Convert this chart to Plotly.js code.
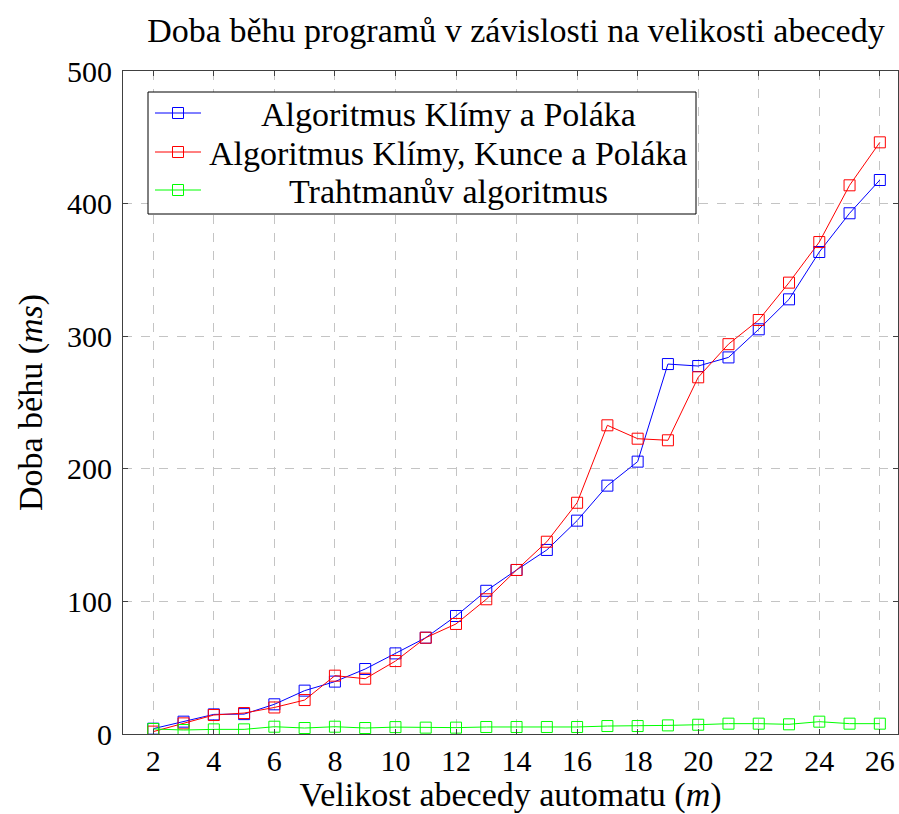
<!DOCTYPE html>
<html>
<head>
<meta charset="utf-8">
<script src="https://cdn.plot.ly/plotly-3.0.1.min.js"></script>
<style>html,body{margin:0;padding:0;background:#fff;}#chart{width:899px;height:814px;}</style>
</head>
<body>
<div id="chart"></div>
<script>
const alphabetSize = [2,3,4,5,6,7,8,9,10,11,12,13,14,15,16,17,18,19,20,21,22,23,24,25,26];
const klimaPolak = [4, 9.3, 14.8, 15, 22.4, 32.7, 39.5, 49, 60.8, 72.6, 89, 108, 123.7, 138.8, 160.9, 187.3, 205.4, 279, 277.5, 284, 305.2, 327.8, 363.5, 392.7, 417.8];
const klimaKuncePolak = [1.8, 8, 14.3, 15.8, 20, 25.6, 44, 41.7, 55, 72.6, 83, 101.6, 123.7, 145, 174.4, 232.8, 222.7, 221.5, 269, 294, 312.2, 340.4, 371, 413.8, 446.2];
const trahtman = [3.8, 3, 3.5, 3.5, 5.5, 4.5, 5.5, 4.5, 5.2, 4.8, 4.8, 5.3, 5.3, 5.3, 5.3, 6, 6, 6.5, 7, 7.8, 7.8, 7.3, 9.3, 7.8, 7.8];
const seriesNames = ["Algoritmus Klímy a Poláka", "Algoritmus Klímy, Kunce a Poláka", "Trahtmanův algoritmus"];
const seriesColors = ["#0000ff", "#ff0000", "#00ff00"];
const seriesValues = [klimaPolak, klimaKuncePolak, trahtman];

const FONT = "'Liberation Serif', 'DejaVu Serif', serif";
const W = 899, H = 814;
const M = {l: 123, r: 1, t: 71, b: 80};
const PW = W - M.l - M.r, PH = H - M.t - M.b;
const px = x => (x - M.l) / PW;
const py = y => (H - M.b - y) / PH;

const traces = seriesValues.map((vals, i) => ({
  x: alphabetSize, y: vals, type: 'scatter', mode: 'lines+markers',
  name: seriesNames[i], showlegend: false,
  line: {color: seriesColors[i], width: 1},
  marker: {symbol: 'square-open', size: 11, color: seriesColors[i], line: {width: 1, color: seriesColors[i]}}
}));

// custom legend (centered text like pgfplots)
const shapes = [];
const annotations = [];
const LB = {x0: 148, x1: 696, y0: 92, y1: 214};
shapes.push({type: 'rect', xref: 'paper', yref: 'paper', x0: px(LB.x0), x1: px(LB.x1), y0: py(LB.y1), y1: py(LB.y0),
  line: {color: '#000', width: 1}, fillcolor: '#fff', layer: 'above'});
const rowY = [113, 152, 190];
seriesNames.forEach((n, i) => {
  const y = rowY[i];
  shapes.push({type: 'line', xref: 'paper', yref: 'paper', x0: px(155), x1: px(201), y0: py(y), y1: py(y),
    line: {color: seriesColors[i], width: 1}, layer: 'above'});
  shapes.push({type: 'rect', xref: 'paper', yref: 'paper', x0: px(172.5), x1: px(183.5), y0: py(y + 5.5), y1: py(y - 5.5),
    line: {color: seriesColors[i], width: 1}, layer: 'above'});
  annotations.push({xref: 'paper', yref: 'paper', x: px(448), y: py(y + 1), xanchor: 'center', yanchor: 'middle',
    text: n, showarrow: false, font: {family: FONT, size: 34, color: '#000'}});
});

const layout = {
  width: W, height: H,
  margin: M,
  paper_bgcolor: '#fff', plot_bgcolor: '#fff',
  title: {text: 'Doba běhu programů v závislosti na velikosti abecedy', font: {family: FONT, size: 34, color: '#000'},
    x: px(516), xref: 'paper', xanchor: 'center', y: 1 - 30 / H, yanchor: 'middle'},
  xaxis: {
    range: [1.0, 26.6], tickmode: 'linear', tick0: 2, dtick: 2,
    showgrid: true, gridcolor: '#c4c4c4', griddash: 'dash', gridwidth: 1,
    showline: true, linecolor: '#404040', linewidth: 1, mirror: 'ticks',
    ticks: 'inside', ticklen: 5, tickcolor: '#404040',
    zeroline: false,
    tickfont: {family: FONT, size: 30, color: '#000'},
    title: {text: 'Velikost abecedy automatu (<i>m</i>)', font: {family: FONT, size: 34, color: '#000'}, standoff: 20}
  },
  yaxis: {
    range: [0, 500], tickmode: 'linear', tick0: 0, dtick: 100,
    showgrid: true, gridcolor: '#c4c4c4', griddash: 'dash', gridwidth: 1,
    showline: true, linecolor: '#404040', linewidth: 1, mirror: 'ticks',
    ticks: 'inside', ticklen: 5, tickcolor: '#404040',
    zeroline: false, ticklabelstandoff: 4,
    tickfont: {family: FONT, size: 30, color: '#000'},
    title: {text: 'Doba běhu (<i>ms</i>)', font: {family: FONT, size: 34, color: '#000'}, standoff: 14}
  },
  shapes: shapes,
  annotations: annotations,
  showlegend: false
};

Plotly.newPlot('chart', traces, layout, {displayModeBar: false, staticPlot: true});
</script>
</body>
</html>
